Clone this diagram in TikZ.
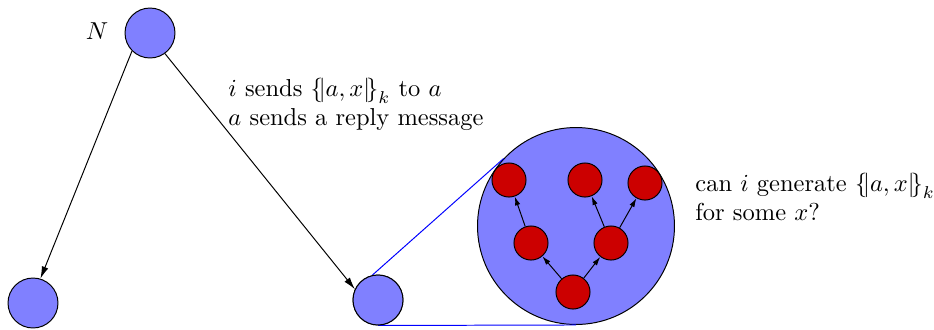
\documentclass[tikz,border=0pt]{standalone}
\usetikzlibrary{arrows.meta}
\definecolor{nodeblue}{RGB}{128,128,255}
\definecolor{nodered}{RGB}{204,0,0}
\tikzset{
  bluec/.style={circle, draw=black, fill=nodeblue, minimum size=20.4pt, inner sep=0pt, line width=0.4pt},
  bigcirc/.style={circle, draw=black, fill=nodeblue, minimum size=80.4pt, inner sep=0pt, line width=0.4pt},
  redc/.style={circle, draw=black, fill=nodered, minimum size=13.9pt, inner sep=0pt, line width=0.4pt},
  bigarrow/.style={-{Latex[length=5pt,width=2.8pt]}, line width=0.4pt},
  smallarrow/.style={-{Latex[length=3.6pt,width=2.2pt]}, line width=0.4pt},
  zoomline/.style={blue, line width=0.4pt},
  lbl/.style={anchor=base west, inner sep=0pt}
}
\begin{document}
\begin{tikzpicture}[x=0.4082pt, y=-0.4082pt]
\useasboundingbox (0,0) rectangle (934,329);
\node[bluec] (s) at (378,300) {};
\node[bigcirc] (big) at (576,226) {};
\draw[zoomline] (s.103) -- (big.137);
\draw[zoomline] (s.south) -- (big.south);
\node[bluec] (s) at (378,300) {};
\node[bluec] (N) at (150,33) {};
\node[bluec] (bl) at (33,303) {};
\node[redc] (r1) at (509,180) {};
\node[redc] (r2) at (585,180) {};
\node[redc] (r3) at (645,183) {};
\node[redc] (r4) at (531,243) {};
\node[redc] (r5) at (611,243) {};
\node[redc] (r6) at (573,292) {};
\node[anchor=center, inner sep=0pt] (Nl) at (97,31) {$N$};
\draw[bigarrow] (N.225) -- (bl.73);
\draw[bigarrow] (N.306) -- (s.155);
\draw[smallarrow] (r6) -- (r4);
\draw[smallarrow] (r6) -- (r5);
\draw[smallarrow] (r4) -- (r1);
\draw[smallarrow] (r5) -- (r2);
\draw[smallarrow] (r5) -- (r3);
\node[lbl] (t1) at (228,96) {$i$ sends ${\{\!|a,x|\!\}}_k$ to $a$};
\node[lbl] (t2) at (228,125) {$a$ sends a reply message};
\node[lbl] (t3) at (695,191) {can $i$ generate ${\{\!|a,x|\!\}}_k$};
\node[lbl] (t4) at (695,220) {for some $x$?};
\end{tikzpicture}
\end{document}
